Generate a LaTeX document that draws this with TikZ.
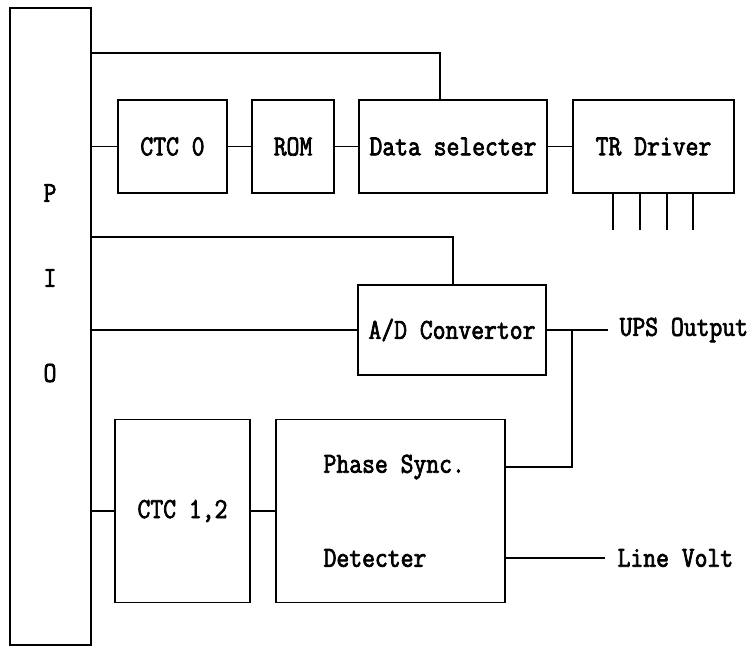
\documentclass[tikz,border=0pt]{standalone}
\usepackage{fontspec}
\newfontfamily\typefont[FakeStretch=0.86, FakeBold=2.5]{Latin Modern Mono}
\usepackage{tikz}
\usetikzlibrary{calc, positioning}

\begin{document}
\begin{tikzpicture}[
    x=1pt, y=-1pt,
    line width=1.2pt,
    font=\typefont\fontsize{29}{32}\selectfont,
    % Styles
    block/.style={rectangle, draw=black, line width=1.2pt, inner sep=0pt},
    pinlabel/.style={inner sep=0pt},
    sigtext/.style={anchor=west, inner sep=0pt}
]
    \useasboundingbox (0,0) rectangle (754,647);

    % 1. THE PIO COLUMN
    \node[block, minimum width=81pt, minimum height=637pt] (pio) at (50.5,326.5) {};
    \node[pinlabel] (pioP) at (50,193) {P};
    \node[pinlabel] (pioI) at (50,278) {I};
    \node[pinlabel] (pioO) at (50,373) {O};

    % 2. THE OUTPUT CHAIN
    \node[block, minimum width=109pt, minimum height=93pt] (ctc0) at (172.5,146.5) {CTC 0};
    \node[block, minimum width=82pt, minimum height=93pt] (rom) at (293,146.5) {ROM};
    \node[block, minimum width=188pt, minimum height=93pt] (dsel) at (453,146.5) {Data selecter};
    \node[block, minimum width=161pt, minimum height=93pt] (trdrv) at (653.5,146.5) {TR Driver};

    \coordinate (bus1) at (440,53);
    \draw (pio.east |- bus1) -| (dsel.north -| bus1);
    \draw (pio.east |- ctc0.west) -- (ctc0.west);
    \draw (ctc0.east) -- (rom.west);
    \draw (rom.east) -- (dsel.west);
    \draw (dsel.east) -- (trdrv.west);
    \foreach \px in {613, 640, 667, 693}
        \draw (trdrv.south -| \px,0) -- (\px,230);

    % 3. THE A/D STAGE
    \node[block, minimum width=188pt, minimum height=90pt] (adc) at (452,330) {A/D Convertor};
    \node[sigtext] (ups) at (619,330) {UPS Output};

    \coordinate (bus2) at (453,237);
    \draw (pio.east |- bus2) -| (adc.north -| bus2);
    \draw (pio.east |- adc.west) -- (adc.west);
    \draw (adc.east) -- ($(ups.west)+(-11,0)$);

    % 4. THE PHASE DETECTION STAGE
    \node[block, minimum width=135pt, minimum height=183pt] (ctc12) at (182.5,511) {CTC 1,2};
    \node[block, minimum width=229pt, minimum height=183pt] (phase) at (390.5,511) {};
    \node[sigtext] (phtop) at (323,467) {Phase Sync.};
    \node[sigtext] (phbot) at (323,558) {Detecter};
    \node[sigtext] (lvolt) at (617,558) {Line Volt};

    \coordinate (jn) at (572,330);
    \coordinate (phin) at (505,467);
    \draw (jn) |- (phin);
    \draw (pio.east |- ctc12.west) -- (ctc12.west);
    \draw (ctc12.east) -- (phase.west);
    \draw (phase.east |- lvolt.west) -- ($(lvolt.west)+(-12,0)$);

\end{tikzpicture}
\end{document}
